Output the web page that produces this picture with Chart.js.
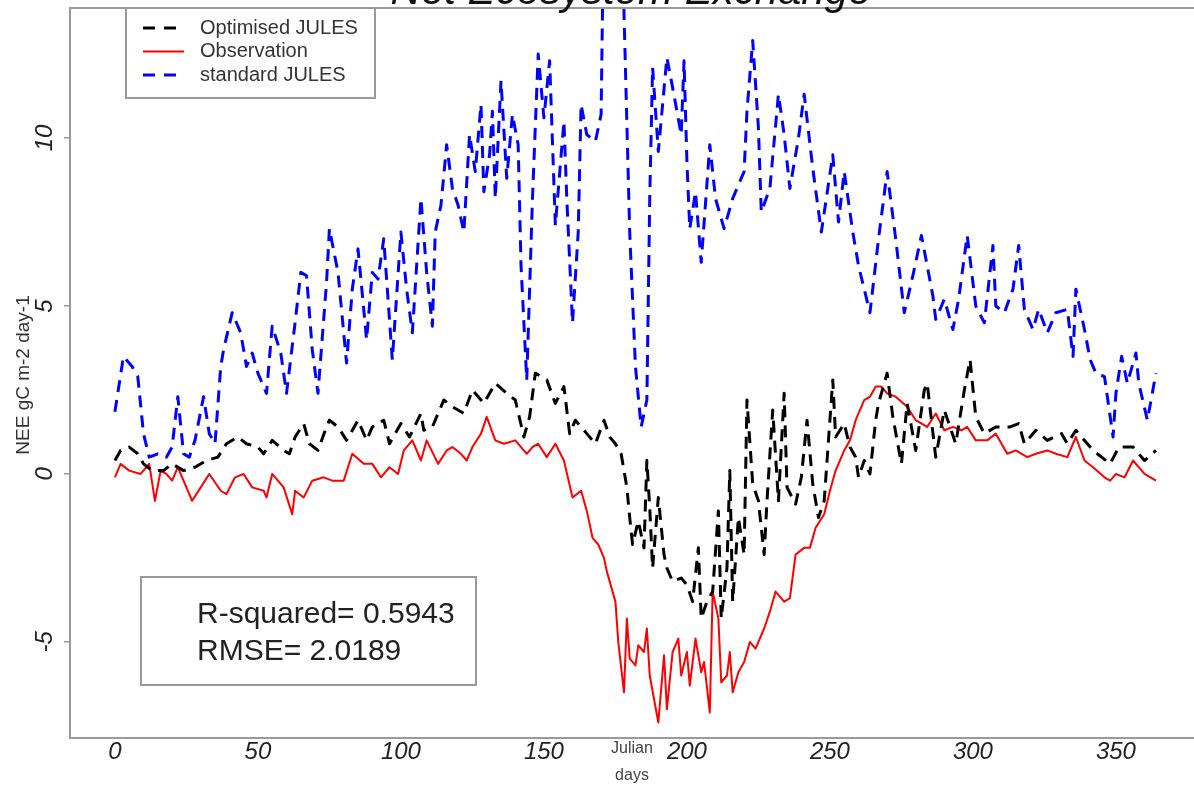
<!DOCTYPE html>
<html>
<head>
<meta charset="utf-8">
<script src="https://cdn.jsdelivr.net/npm/chart.js@4.4.1/dist/chart.umd.min.js"></script>
<style>
  html, body { margin: 0; padding: 0; background: #fff; }
  #chart { display: block; }
</style>
</head>
<body>
<canvas id="chart" width="1194" height="788"></canvas>
<script>
// Net Ecosystem Exchange (gC m-2 day-1)
const xTicks = [0, 50, 100, 150, 200, 250, 300, 350]
const yTicks = [-5, 0, 5, 10]

const stdDays = [0, 3, 6, 8, 10, 12, 15, 18, 20, 22, 24, 26, 28, 31, 33, 35, 37, 38, 41, 44, 46, 48, 50, 53, 55, 58, 60, 63, 65, 67, 69, 71, 74, 75, 78, 81, 83, 85, 88, 90, 92, 94, 97, 100, 102, 104, 107, 109, 111, 112, 114, 116, 118, 120, 122, 124, 126, 128, 129, 131, 132, 133, 135, 137, 139, 141, 142, 144, 146, 148, 150, 152, 154, 157, 158, 160, 162, 163, 165, 168, 170, 171, 177, 180, 182, 184, 186, 187, 188, 190, 193, 195, 198, 199, 200, 201, 203, 205, 208, 210, 213, 216, 220, 221, 223, 225, 226, 229, 232, 234, 236, 239, 241, 244, 247, 251, 253, 255, 258, 260, 262, 264, 267, 270, 273, 276, 279, 282, 286, 287, 290, 293, 295, 298, 301, 304, 307, 308, 311, 314, 316, 318, 321, 323, 326, 329, 333, 335, 336, 339, 341, 343, 346, 349, 350, 352, 354, 357, 358, 361, 364]
const stdNEE = [1.85, 3.5, 3.2, 2.9, 1.2, 0.5, 0.6, 0.5, 0.8, 2.3, 0.6, 0.5, 1.0, 2.3, 1.2, 0.9, 3.2, 3.7, 4.8, 4.2, 3.2, 3.6, 3.0, 2.4, 4.4, 3.6, 2.4, 4.5, 6.0, 5.9, 3.7, 2.4, 5.7, 7.3, 6.0, 3.3, 5.5, 6.7, 4.0, 6.0, 5.8, 7.0, 3.4, 7.2, 5.5, 4.2, 8.2, 6.0, 4.4, 7.2, 8.0, 9.8, 8.5, 8.0, 7.2, 10.1, 9.0, 11.0, 8.4, 9.5, 10.8, 8.2, 11.7, 8.8, 10.7, 9.8, 6.2, 2.8, 8.2, 12.5, 10.6, 12.3, 7.4, 10.5, 8.2, 4.5, 7.2, 11.0, 10.1, 9.9, 10.7, 17, 17, 7.2, 3.2, 1.4, 2.2, 8.2, 12.1, 9.6, 12.4, 11.5, 10.1, 12.3, 9.3, 7.3, 8.4, 6.3, 9.8, 8.2, 7.3, 8.2, 9.0, 10.8, 12.9, 10.3, 7.8, 8.5, 11.3, 10.1, 8.5, 10.0, 11.3, 9.1, 7.2, 9.5, 7.5, 9.0, 7.2, 6.2, 5.5, 4.8, 7.0, 9.0, 7.0, 4.8, 5.9, 7.1, 5.3, 4.6, 5.2, 4.3, 5.2, 7.1, 5.0, 4.5, 6.8, 5.0, 4.8, 5.5, 6.8, 4.9, 4.3, 4.9, 4.2, 4.8, 4.9, 3.5, 5.5, 4.3, 3.4, 3.0, 2.9, 1.1, 2.4, 3.5, 2.7, 3.6, 2.7, 1.6, 3.0]

const optDays = [0, 2, 5, 8, 10, 13, 17, 20, 24, 28, 32, 36, 39, 43, 46, 50, 52, 55, 59, 61, 63, 66, 68, 71, 74, 75, 78, 81, 85, 88, 90, 94, 96, 100, 103, 107, 108, 111, 115, 118, 122, 125, 129, 133, 137, 140, 143, 145, 147, 151, 154, 157, 159, 161, 165, 168, 171, 173, 175, 177, 179, 180, 181, 183, 185, 186, 187, 188, 190, 192, 193, 195, 198, 200, 202, 204, 205, 207, 209, 211, 212, 214, 215, 216, 218, 220, 221, 223, 225, 227, 228, 230, 232, 234, 235, 238, 240, 242, 244, 246, 248, 249, 251, 252, 255, 257, 259, 260, 262, 264, 266, 267, 270, 272, 275, 277, 280, 283, 284, 287, 290, 294, 297, 299, 301, 304, 308, 313, 316, 318, 322, 326, 331, 333, 336, 342, 348, 351, 356, 360, 364]
const optNEE = [0.4, 0.7, 0.8, 0.6, 0.3, 0.1, 0.1, 0.3, 0.1, 0.2, 0.4, 0.5, 0.9, 1.1, 0.9, 0.8, 0.6, 1.0, 0.7, 0.6, 1.1, 1.5, 0.9, 0.7, 1.4, 1.6, 1.4, 1.0, 1.6, 1.0, 1.4, 1.6, 0.9, 1.5, 1.1, 1.8, 1.3, 1.4, 2.2, 2.0, 1.8, 2.5, 2.1, 2.7, 2.4, 2.2, 1.1, 1.7, 3.0, 2.8, 2.1, 2.6, 1.2, 1.6, 1.2, 0.9, 1.6, 1.1, 0.9, 0.6, -0.4, -1.3, -2.1, -1.4, -2.2, 0.4, -1.0, -2.8, -0.7, -2.4, -2.8, -3.2, -3.1, -3.3, -3.8, -2.2, -4.3, -3.8, -3.5, -1.1, -4.3, -2.8, 0.1, -3.8, -1.3, -2.4, 2.2, -0.3, -0.8, -2.4, -0.8, 1.9, -0.8, 2.4, -0.4, -0.9, -0.1, 1.6, -0.3, -1.3, -0.8, 0.4, 2.8, 1.1, 1.5, 0.8, 0.5, -0.1, 0.4, 0.0, 1.6, 2.1, 3.0, 1.7, 0.3, 2.1, 0.7, 2.5, 2.7, 0.5, 1.9, 0.9, 2.5, 3.4, 1.7, 1.2, 1.4, 1.4, 1.5, 0.9, 1.3, 1.0, 1.2, 0.9, 1.3, 0.7, 0.3, 0.8, 0.8, 0.4, 0.7]

const obsDays = [0, 2, 5, 9, 12, 14, 16, 18, 20, 22, 24, 27, 30, 33, 37, 39, 42, 45, 48, 52, 53, 55, 59, 62, 63, 66, 69, 73, 76, 80, 83, 87, 90, 93, 96, 99, 101, 104, 107, 109, 113, 116, 118, 121, 123, 125, 128, 130, 133, 136, 140, 144, 146, 148, 151, 154, 157, 160, 163, 165, 167, 169, 171, 172, 175, 176, 178, 179, 180, 182, 183, 185, 186, 187, 190, 192, 193, 195, 197, 198, 200, 201, 203, 205, 206, 208, 209, 211, 212, 214, 215, 216, 218, 220, 222, 224, 227, 229, 231, 234, 236, 238, 241, 243, 245, 248, 250, 252, 255, 257, 259, 262, 264, 266, 268, 270, 273, 277, 280, 284, 287, 290, 293, 296, 298, 301, 305, 308, 312, 315, 319, 322, 326, 329, 333, 336, 339, 342, 346, 348, 350, 353, 356, 360, 364]
const obsNEE = [-0.1, 0.3, 0.1, 0.0, 0.3, -0.8, 0.1, 0.0, -0.2, 0.2, -0.2, -0.8, -0.4, 0.0, -0.5, -0.6, -0.1, 0.0, -0.4, -0.5, -0.7, 0.0, -0.4, -1.2, -0.5, -0.7, -0.2, -0.1, -0.2, -0.2, 0.6, 0.3, 0.3, -0.1, 0.2, 0.0, 0.7, 1.0, 0.4, 1.0, 0.3, 0.7, 0.8, 0.6, 0.4, 0.8, 1.2, 1.7, 1.0, 0.9, 1.0, 0.6, 0.8, 0.9, 0.5, 0.9, 0.4, -0.7, -0.5, -1.1, -1.9, -2.1, -2.5, -2.9, -3.8, -5.0, -6.5, -4.3, -5.5, -5.7, -5.1, -5.3, -4.6, -6.0, -7.4, -5.4, -7.0, -5.3, -4.9, -6.0, -5.3, -6.3, -4.9, -5.9, -5.6, -7.1, -3.5, -4.3, -6.2, -6.0, -5.3, -6.5, -5.9, -5.6, -5.0, -5.2, -4.6, -4.1, -3.5, -3.8, -3.7, -2.4, -2.2, -2.2, -1.6, -1.2, -0.5, 0.1, 0.7, 1.0, 1.6, 2.2, 2.3, 2.6, 2.6, 2.4, 2.3, 2.0, 1.6, 1.4, 1.8, 1.3, 1.4, 1.3, 1.4, 1.0, 1.0, 1.2, 0.6, 0.7, 0.5, 0.6, 0.7, 0.6, 0.5, 1.1, 0.4, 0.2, -0.1, -0.2, 0.0, -0.1, 0.4, 0.0, -0.2]

const FONT = "'Liberation Sans', Arial, sans-serif"

const toPoints = (days, vals) => days.map((d, i) => ({ x: d, y: vals[i] }))

// everything that is not a data mark: frame, title, boxes, rotated labels
const decorations = {
  id: "decorations",
  afterDraw(chart) {
    const { ctx, chartArea, scales } = chart
    ctx.save()

    // top of the plot frame
    ctx.strokeStyle = "#9a9a9a"
    ctx.lineWidth = 2
    ctx.beginPath()
    ctx.moveTo(chartArea.left, chartArea.top)
    ctx.lineTo(chartArea.right, chartArea.top)
    ctx.stroke()

    // title, cut off by the top edge as in the original
    ctx.fillStyle = "#111"
    ctx.font = `italic 42px ${FONT}`
    ctx.textAlign = "center"
    ctx.textBaseline = "alphabetic"
    ctx.fillText("Net Ecosystem Exchange", 631, 4)

    // rotated y tick labels
    ctx.font = `italic 24px ${FONT}`
    ctx.fillStyle = "#222"
    ctx.textBaseline = "middle"
    yTicks.forEach(v => {
      const py = scales.y.getPixelForValue(v)
      ctx.save()
      ctx.translate(45, py)
      ctx.rotate(-Math.PI / 2)
      ctx.fillText(String(v), 0, 0)
      ctx.restore()
    })

    // y axis title
    ctx.save()
    ctx.translate(24, 375)
    ctx.rotate(-Math.PI / 2)
    ctx.font = `19px ${FONT}`
    ctx.fillStyle = "#333"
    ctx.fillText("NEE gC m-2 day-1", 0, 0)
    ctx.restore()

    // x axis title, split over two lines
    ctx.font = `16px ${FONT}`
    ctx.fillStyle = "#444"
    ctx.fillText("Julian", 632, 749)
    ctx.fillText("days", 632, 776)

    // legend
    ctx.strokeStyle = "#9a9a9a"
    ctx.lineWidth = 2
    ctx.strokeRect(126, 8, 249, 90)
    const entries = [
      { label: "Optimised JULES", color: "#000", dash: [12, 9] },
      { label: "Observation", color: "#ff0000", dash: [] },
      { label: "standard JULES", color: "#0000ff", dash: [12, 9] }
    ]
    ctx.font = `20px ${FONT}`
    ctx.textAlign = "left"
    entries.forEach((e, i) => {
      const ly = 28 + i * 23.5
      ctx.strokeStyle = e.color
      ctx.lineWidth = e.dash.length ? 3 : 2
      ctx.setLineDash(e.dash)
      ctx.beginPath()
      ctx.moveTo(143, ly)
      ctx.lineTo(184, ly)
      ctx.stroke()
      ctx.setLineDash([])
      ctx.fillStyle = "#333"
      ctx.fillText(e.label, 200, ly)
    })

    // statistics box
    ctx.strokeStyle = "#9a9a9a"
    ctx.lineWidth = 2
    ctx.strokeRect(141, 577, 335, 108)
    ctx.font = `30px ${FONT}`
    ctx.fillStyle = "#222"
    ctx.textBaseline = "alphabetic"
    ctx.fillText("R-squared= 0.5943", 197, 623)
    ctx.fillText("RMSE= 2.0189", 197, 660)

    ctx.restore()
  }
}

new Chart(document.getElementById("chart"), {
  type: "line",
  data: {
    datasets: [
      {
        label: "standard JULES",
        data: toPoints(stdDays, stdNEE),
        borderColor: "#0000ff",
        borderWidth: 3,
        borderDash: [12, 8]
      },
      {
        label: "Optimised JULES",
        data: toPoints(optDays, optNEE),
        borderColor: "#000000",
        borderWidth: 3,
        borderDash: [12, 8]
      },
      {
        label: "Observation",
        data: toPoints(obsDays, obsNEE),
        borderColor: "#ff0000",
        borderWidth: 2
      }
    ]
  },
  options: {
    responsive: false,
    animation: false,
    devicePixelRatio: 1,
    layout: { padding: { top: 8, left: 0, right: 0, bottom: 0 } },
    elements: {
      point: { radius: 0 },
      line: { tension: 0, borderJoinStyle: "round" }
    },
    plugins: {
      legend: { display: false },
      tooltip: { enabled: false }
    },
    scales: {
      x: {
        type: "linear",
        min: -15.7,
        max: 377.3,
        afterBuildTicks: s => { s.ticks = xTicks.map(v => ({ value: v })) },
        afterFit: s => { s.height = 50 },
        ticks: {
          autoSkip: false,
          maxRotation: 0,
          padding: 0,
          color: "#222",
          font: { family: FONT, size: 24, style: "italic" }
        },
        grid: { drawOnChartArea: false, drawTicks: false },
        border: { color: "#9a9a9a", width: 2 }
      },
      y: {
        type: "linear",
        min: -7.86,
        max: 13.87,
        afterBuildTicks: s => { s.ticks = yTicks.map(v => ({ value: v })) },
        afterFit: s => { s.width = 70 },
        ticks: { display: false },
        grid: { drawOnChartArea: false, drawTicks: true, tickLength: 6, color: "#9a9a9a", lineWidth: 1.5 },
        border: { color: "#9a9a9a", width: 2 }
      }
    }
  },
  plugins: [decorations]
})
</script>
</body>
</html>
